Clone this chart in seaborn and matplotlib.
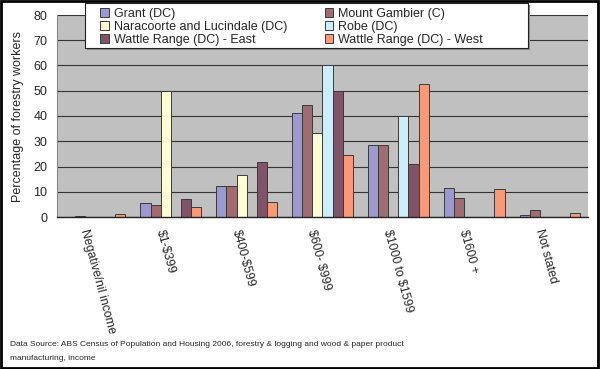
import pandas as pd
import matplotlib
matplotlib.use("Agg")
import matplotlib.pyplot as plt
import seaborn as sns
from matplotlib.patches import Rectangle

categories = ["Negative/nil income", "$1-$399", "$400-$599", "$600- $999",
              "$1000 to $1599", "$1600 +", "Not stated"]
series = ["Grant (DC)", "Mount Gambier (C)", "Naracoorte and Lucindale (DC)",
          "Robe (DC)", "Wattle Range (DC) - East", "Wattle Range (DC) - West"]

grant = [0.0, 5.7, 12.1, 41.1, 28.6, 11.5, 0.9]
mount_gambier = [0.3, 4.7, 12.4, 44.4, 28.6, 7.7, 2.6]
naracoorte = [0.0, 50.0, 16.7, 33.3, 0.0, 0.0, 0.0]
robe = [0.0, 0.0, 0.0, 60.0, 40.0, 0.0, 0.0]
wattle_east = [0.0, 7.1, 21.7, 50.0, 21.0, 0.0, 0.0]
wattle_west = [1.0, 3.8, 6.0, 24.6, 52.7, 11.1, 1.7]

colors = ["#9C98D0", "#A06C72", "#FFFCD6", "#CCEEFB", "#805468", "#F79A7A"]

values = [grant, mount_gambier, naracoorte, robe, wattle_east, wattle_west]
rows = []
for name, vals in zip(series, values):
    for cat, v in zip(categories, vals):
        rows.append({"income": cat, "region": name, "pct": v})
df = pd.DataFrame(rows)

sns.set_style("white")
plt.rcParams["font.family"] = ["Liberation Sans", "DejaVu Sans"]

fig = plt.figure(figsize=(6, 3.69), dpi=100)
ax = fig.add_axes([57 / 600, 1 - 217 / 369, 531 / 600, 202 / 369])
ax.set_facecolor("#C0C0C0")

sns.barplot(data=df, x="income", y="pct", hue="region", hue_order=series,
            order=categories, palette=colors, width=0.8, ax=ax,
            edgecolor="#3a3a3a", linewidth=0.7, saturation=1, legend=True)

ax.set_ylim(0, 80)
ax.set_xlim(-0.5, 6.5)
ax.set_yticks(range(0, 81, 10))
ax.tick_params(axis="y", labelsize=9, length=4, width=0.8, color="#333333", pad=3)
ax.yaxis.grid(True, color="#333333", linewidth=0.8)
ax.set_axisbelow(True)

# category labels, boundary ticks
ax.set_xticks(range(len(categories)))
ax.set_xticklabels([])
ax.tick_params(axis="x", which="major", length=0)
ax.set_xticks([i - 0.5 for i in range(len(categories) + 1)], minor=True)
ax.tick_params(axis="x", which="minor", length=4, width=0.8, color="#333333")
for i, cat in enumerate(categories):
    ax.annotate(cat.replace("$", r"\$"), xy=(i, 0), xycoords=("data", "axes fraction"),
                xytext=(-4, -8), textcoords="offset points",
                rotation=-75, rotation_mode="anchor", ha="left", va="top",
                fontsize=8.8)

ax.set_xlabel("")
ax.set_ylabel("Percentage of forestry workers", fontsize=9)
ax.yaxis.set_label_coords(-0.062, 0.5)

for s in ["top", "right"]:
    ax.spines[s].set_visible(False)
ax.spines["left"].set_color("#888888")
ax.spines["bottom"].set_color("#222222")
ax.spines["bottom"].set_linewidth(1)

# legend box (frame + shadow drawn by hand so it can be wider than its content)
shadow = Rectangle((87 / 600, 1 - 50 / 369), 443 / 600, 45 / 369,
                   transform=fig.transFigure, facecolor="#8c8c8c",
                   edgecolor="none", zorder=5)
frame = Rectangle((85 / 600, 1 - 48 / 369), 443 / 600, 45 / 369,
                  transform=fig.transFigure, facecolor="white",
                  edgecolor="#222222", linewidth=0.8, zorder=6)
fig.patches.extend([shadow, frame])

# legend: row-major order like the original
handles, labels = ax.get_legend_handles_labels()
order = [0, 2, 4, 1, 3, 5]
leg = ax.legend([handles[i] for i in order], [labels[i] for i in order],
                ncol=2, loc="upper left",
                bbox_to_anchor=(100 / 600, 1 - 8 / 369),
                bbox_transform=fig.transFigure, fontsize=9, frameon=False,
                borderpad=0, labelspacing=0.08, columnspacing=3.0,
                handlelength=0.7, handleheight=0.7, handletextpad=0.4,
                borderaxespad=0)
leg.set_zorder(7)
leg.remove()
fig.add_artist(leg)

fig.text(10 / 600, 1 - 345 / 369,
         "Data Source: ABS Census of Population and Housing 2006, forestry & logging and wood & paper product",
         fontsize=6.0, va="center", ha="left")
fig.text(10 / 600, 1 - 358 / 369, "manufacturing, income",
         fontsize=6.0, va="center", ha="left")

fig.patches.append(Rectangle((0.001, 0.002), 0.995, 0.996, transform=fig.transFigure,
                             fill=False, edgecolor="black", linewidth=2))

fig.savefig("out.png", dpi=100)
